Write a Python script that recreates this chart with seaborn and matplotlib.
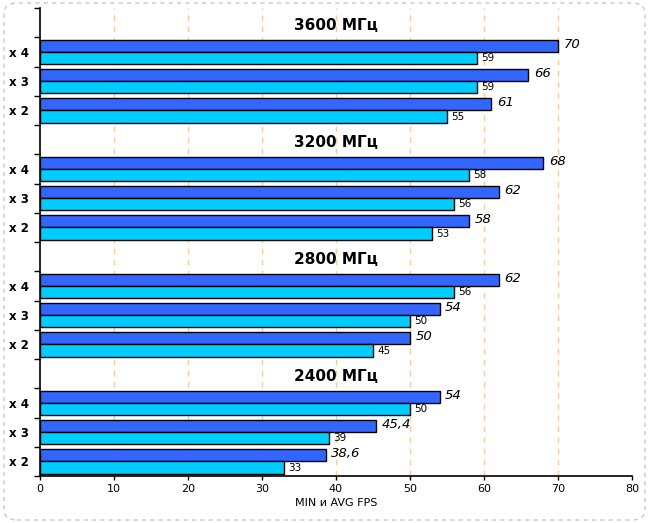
import numpy as np
import pandas as pd
import matplotlib
matplotlib.use("Agg")
import matplotlib.pyplot as plt
from matplotlib.patches import FancyBboxPatch
import seaborn as sns

# ---- data ----
groups = ["3600 МГц", "3200 МГц", "2800 МГц", "2400 МГц"]
rows = ["x 4", "x 3", "x 2"]
avg_fps = [[70, 66, 61], [68, 62, 58], [62, 54, 50], [54, 45.4, 38.6]]
min_fps = [[59, 59, 55], [58, 56, 53], [56, 50, 45], [50, 39, 33]]
x_ticks = [0, 10, 20, 30, 40, 50, 60, 70, 80]
x_label = "MIN и AVG FPS"

# ---- build table ----
recs = []
order = []
order_labels = []
header_keys = []
for g, grp in enumerate(groups):
    hk = f"{grp}|hdr"
    order.append(hk)
    order_labels.append("")
    header_keys.append((hk, grp))
    for r, row in enumerate(rows):
        key = f"{grp}|{row}"
        order.append(key)
        order_labels.append(row)
        recs.append({"row": key, "metric": "AVG", "value": avg_fps[g][r]})
        recs.append({"row": key, "metric": "MIN", "value": min_fps[g][r]})
df = pd.DataFrame(recs)

sns.set_style("white")
plt.rcParams["font.family"] = ["DejaVu Sans"]
for k in ["text.color", "axes.labelcolor", "xtick.color", "ytick.color"]:
    plt.rcParams[k] = "black"

W, H = 648, 523
fig = plt.figure(figsize=(W / 100, H / 100), dpi=100)
ax = fig.add_axes([40 / W, 1 - 476 / H, 592 / W, 468 / H])

sns.barplot(data=df, y="row", x="value", hue="metric", order=order,
            hue_order=["AVG", "MIN"], palette=["#3366FF", "#00CCFF"],
            saturation=1, orient="h", width=0.84, edgecolor="black",
            linewidth=1, legend=False, ax=ax, zorder=3)

ax.set_xlim(x_ticks[0], x_ticks[-1])
ax.set_ylim(len(order) - 0.5, -0.5)

# grid
for xv in x_ticks[1:-1]:
    ax.axvline(xv, color="#F8CC98", lw=1, ls=(0, (4, 4)), zorder=1)

# value labels
for ci, cont in enumerate(ax.containers):
    for bar in cont:
        w = bar.get_width()
        if np.isnan(w):
            continue
        txt = f"{w:g}".replace(".", ",")
        yc = bar.get_y() + bar.get_height() / 2
        if ci == 0:
            ax.annotate(txt, (w, yc), xytext=(4, 1), textcoords="offset points",
                        va="center", ha="left", fontsize=9.5, style="italic",
                        color="black")
        else:
            ax.annotate(txt, (w, yc), xytext=(3, 0), textcoords="offset points",
                        va="center", ha="left", fontsize=7.5, color="black")

# headers
xmid = (x_ticks[0] + x_ticks[-1]) / 2
for hk, grp in header_keys:
    ax.text(xmid, order.index(hk) + 0.1, grp, ha="center", va="center",
            fontsize=11, fontweight="bold", color="black")

# ticks
ax.set_yticks(np.arange(len(order) + 1) - 0.5)
ax.set_yticklabels([])
ax.set_yticks(np.arange(len(order)), minor=True)
ax.set_yticklabels(order_labels, minor=True, fontsize=8.5, fontweight="bold")
ax.tick_params(axis="y", which="major", length=4, width=1, color="black", direction="out", left=True)
ax.tick_params(axis="y", which="minor", length=0, pad=8, left=True, labelcolor="black")
ax.set_xticks(x_ticks)
ax.set_xticklabels([str(v) for v in x_ticks], fontsize=8)
ax.tick_params(axis="x", length=3, width=1, color="black", direction="out", bottom=True, pad=3, labelcolor="black")
ax.set_ylabel("")
ax.set_xlabel(x_label, fontsize=8, labelpad=3, color="black")

for s in ["top", "right"]:
    ax.spines[s].set_visible(False)
for s in ["left", "bottom"]:
    ax.spines[s].set_color("black")
    ax.spines[s].set_linewidth(1.2)

# rounded dashed frame
frame = FancyBboxPatch((4 / W, 3 / H), (645 - 4) / W, (520 - 3) / H,
                       boxstyle="round,pad=0,rounding_size=0.02",
                       transform=fig.transFigure, fill=False,
                       edgecolor="#C8C8C8", lw=1, ls=(0, (3, 3)))
fig.patches.append(frame)

fig.savefig("out.png", dpi=100)
